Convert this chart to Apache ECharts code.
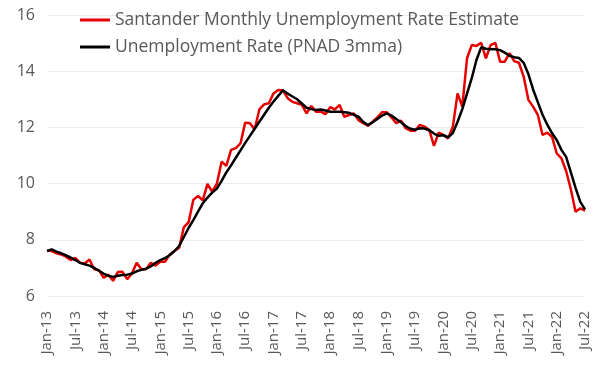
<!DOCTYPE html>
<html>
<head>
<meta charset="utf-8">
<script src="https://cdn.jsdelivr.net/npm/echarts@6/dist/echarts.min.js"></script>
<style>
html,body{margin:0;padding:0;background:#fff;}
#chart{width:598px;height:369px;}
</style>
</head>
<body>
<div id="chart"></div>
<script>
const monthNames = ['Jan','Feb','Mar','Apr','May','Jun','Jul','Aug','Sep','Oct','Nov','Dec'];
const startYear = 2013;
const monthCount = 115; // Jan-13 .. Jul-22
const categories = [];
for (let k = 0; k < monthCount; k++) {
  const y = startYear + Math.floor(k / 12);
  categories.push(monthNames[k % 12] + '-' + String(y).slice(2));
}

const seriesNames = ['Santander Monthly Unemployment Rate Estimate', 'Unemployment Rate (PNAD 3mma)'];

const santander = [
  7.62, 7.60, 7.52, 7.48, 7.40, 7.28, 7.36, 7.18, 7.16, 7.30, 6.95, 6.92,
  6.65, 6.76, 6.54, 6.85, 6.86, 6.60, 6.80, 7.18, 6.95, 6.95, 7.18, 7.08,
  7.22, 7.22, 7.48, 7.60, 7.72, 8.45, 8.62, 9.42, 9.56, 9.40, 9.99, 9.71,
  10.00, 10.78, 10.63, 11.20, 11.26, 11.43, 12.17, 12.15, 11.93, 12.64, 12.82, 12.86,
  13.21, 13.33, 13.31, 13.04, 12.91, 12.86, 12.80, 12.50, 12.76, 12.56, 12.56, 12.47,
  12.72, 12.64, 12.80, 12.38, 12.44, 12.50, 12.26, 12.15, 12.06, 12.20, 12.36, 12.54,
  12.54, 12.35, 12.15, 12.24, 11.97, 11.88, 11.88, 12.09, 12.03, 11.91, 11.34, 11.81,
  11.73, 11.61, 12.03, 13.21, 12.74, 14.46, 14.93, 14.90, 15.01, 14.46, 14.93, 15.01,
  14.34, 14.34, 14.64, 14.36, 14.30, 13.81, 12.98, 12.74, 12.45, 11.73, 11.81, 11.67,
  11.08, 10.90, 10.45, 9.80, 9.00, 9.12, 9.04
];

const pnad3mma = [
  7.60, 7.66, 7.58, 7.52, 7.45, 7.37, 7.28, 7.18, 7.13, 7.08, 7.00, 6.90,
  6.80, 6.72, 6.68, 6.72, 6.75, 6.76, 6.80, 6.88, 6.93, 6.97, 7.05, 7.18,
  7.28, 7.35, 7.45, 7.60, 7.78, 8.10, 8.42, 8.70, 9.00, 9.30, 9.50, 9.68,
  9.82, 10.10, 10.40, 10.65, 10.92, 11.18, 11.45, 11.70, 11.95, 12.20, 12.45, 12.70,
  12.92, 13.12, 13.32, 13.20, 13.10, 13.00, 12.85, 12.70, 12.65, 12.62, 12.64, 12.60,
  12.56, 12.56, 12.56, 12.54, 12.52, 12.45, 12.38, 12.20, 12.08, 12.18, 12.30, 12.42,
  12.50, 12.42, 12.30, 12.18, 12.05, 11.95, 11.92, 11.97, 11.96, 11.90, 11.78, 11.70,
  11.72, 11.65, 11.80, 12.20, 12.65, 13.20, 13.75, 14.40, 14.85, 14.80, 14.78, 14.78,
  14.75, 14.66, 14.55, 14.50, 14.47, 14.30, 13.90, 13.35, 12.90, 12.45, 12.10, 11.80,
  11.55, 11.20, 10.95, 10.40, 9.85, 9.35, 9.08
];

const yTicks = { min: 6, max: 16, interval: 2 };

const FONT = '"Open Sans", "Noto Sans", sans-serif';
const TXT = '#595959';

const chart = echarts.init(document.getElementById('chart'), null, { renderer: 'canvas' });
chart.setOption({
  animation: false,
  backgroundColor: '#ffffff',
  grid: { left: 47, right: 13, top: 15, bottom: 73, containLabel: false },
  legend: {
    orient: 'vertical',
    left: 80,
    top: 10,
    padding: 0,
    itemWidth: 30,
    itemHeight: 3,
    itemGap: 7,
    icon: 'rect',
    textStyle: { fontFamily: FONT, fontSize: 17.5, color: TXT, lineHeight: 20 },
    data: [
      { name: seriesNames[0], itemStyle: { color: '#e60000' } },
      { name: seriesNames[1], itemStyle: { color: '#000000' } }
    ]
  },
  xAxis: {
    type: 'category',
    data: categories,
    boundaryGap: false,
    axisLine: { show: false },
    axisTick: { show: false },
    splitLine: { show: false },
    axisLabel: {
      interval: 5,
      rotate: 90,
      margin: 15,
      fontFamily: FONT,
      fontSize: 15,
      color: TXT
    }
  },
  yAxis: {
    type: 'value',
    min: yTicks.min,
    max: yTicks.max,
    interval: yTicks.interval,
    axisLine: { show: false },
    axisTick: { show: false },
    splitLine: { lineStyle: { color: '#ebebeb', width: 1 } },
    axisLabel: { fontFamily: FONT, fontSize: 16, color: TXT, margin: 12 }
  },
  series: [
    {
      name: seriesNames[0], type: 'line', data: santander,
      symbol: 'none', smooth: false,
      lineStyle: { color: '#e60000', width: 2.5 },
      itemStyle: { color: '#e60000' }
    },
    {
      name: seriesNames[1], type: 'line', data: pnad3mma,
      symbol: 'none', smooth: false,
      lineStyle: { color: '#000000', width: 2.5 },
      itemStyle: { color: '#000000' }
    }
  ]
});
</script>
</body>
</html>
